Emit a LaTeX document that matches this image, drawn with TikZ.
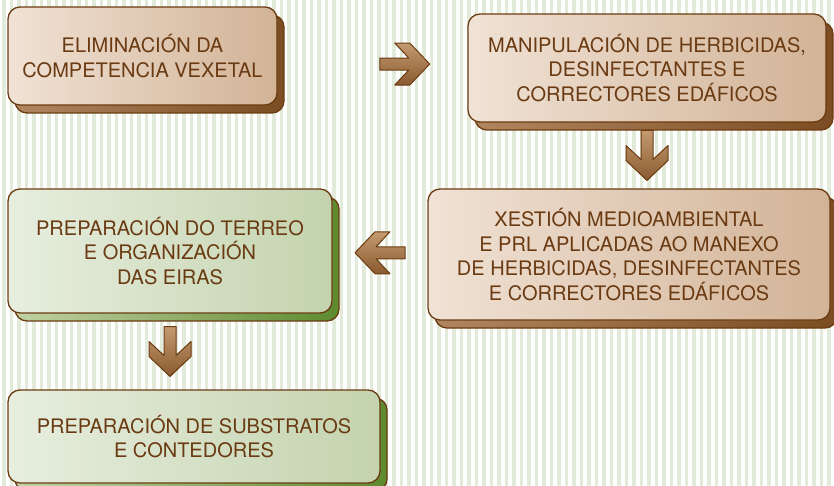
\documentclass[tikz,border=0pt]{standalone}
\usepackage{fontspec}
\setmainfont{TeX Gyre Heros}
\usepackage{tikz}
\usetikzlibrary{shadows,calc,backgrounds}

\definecolor{bordo}{HTML}{6B3C12}
\definecolor{texto}{HTML}{6A3A12}
\definecolor{marronA}{HTML}{F0E2D5}
\definecolor{marronB}{HTML}{D2B396}
\definecolor{sombraA}{HTML}{B08660}
\definecolor{sombraB}{HTML}{7C4C22}
\definecolor{verdeA}{HTML}{E7EEDF}
\definecolor{verdeB}{HTML}{C4D3AE}
\definecolor{sverdeA}{HTML}{C2D2A4}
\definecolor{sverdeB}{HTML}{5E8A2E}
\definecolor{frechaA}{HTML}{8A5A30}
\definecolor{frechaB}{HTML}{C49A70}
\definecolor{listra}{HTML}{E2EAD9}

\tikzset{
  caixa/.style={rectangle, rounded corners=12pt, draw=bordo, line width=1.3pt,
    text=texto, align=center, inner sep=0pt,
    font=\fontsize{20}{24.5}\selectfont},
  marron/.style={caixa, left color=marronA, right color=marronB,
    general shadow={shadow xshift=7pt, shadow yshift=-8pt,
      left color=sombraA, right color=sombraB, draw=bordo, line width=1.3pt}},
  verde/.style={caixa, left color=verdeA, right color=verdeB,
    general shadow={shadow xshift=7pt, shadow yshift=-8pt,
      left color=sverdeA, right color=sverdeB, draw=bordo, line width=1.3pt}},
  frecha/.pic={
    \draw[draw=bordo, line width=1pt, line join=round, top color=frechaB, bottom color=frechaA]
      (25,0) -- (5,21) -- (-10,21) -- (4,6) -- (-25,6) -- (-25,-6)
      -- (4,-6) -- (-10,-21) -- (5,-21) -- cycle;
  }
}

\begin{document}
\begin{tikzpicture}[x=1pt,y=-1pt]
\useasboundingbox (0,0) rectangle (834,486);

\node[marron, minimum width=269pt, minimum height=98pt] (b1) at (142.5,56)
  {ELIMINACIÓN DA\\COMPETENCIA VEXETAL};
\node[marron, minimum width=358pt, minimum height=108pt] (b2) at (647,68)
  {MANIPULACIÓN DE HERBICIDAS,\\DESINFECTANTES E\\CORRECTORES EDÁFICOS};
\node[marron, minimum width=402pt, minimum height=131pt] (b3) at (629,254.5)
  {XESTIÓN MEDIOAMBIENTAL\\E PRL APLICADAS AO MANEXO\\DE HERBICIDAS, DESINFECTANTES\\E CORRECTORES EDÁFICOS};
\node[verde, minimum width=324pt, minimum height=124pt] (b4) at (170,251)
  {PREPARACIÓN DO TERREO\\E ORGANIZACIÓN\\DAS EIRAS};
\node[verde, minimum width=372pt, minimum height=93pt] (b5) at (194,436.5)
  {PREPARACIÓN DE SUBSTRATOS\\E CONTEDORES};

\begin{scope}[on background layer]
  % fondo listrado
  \foreach \x in {2,9.5,...,834}
    \fill[listra] (\x,0) rectangle ++(3.5,486);
  % frechas
  \pic at ($(b1.east)!0.67!(b2.west)$) {frecha};
  \pic[rotate=-90] at ($(b2.south)!0.5!(b2.south |- b3.north)$) {frecha};
  \pic[rotate=180] at ($(b3.west)!0.5!(b4.east)$) {frecha};
  \pic[rotate=-90] at ($(b4.south)!0.5!(b4.south |- b5.north)$) {frecha};
\end{scope}
\end{tikzpicture}
\end{document}
